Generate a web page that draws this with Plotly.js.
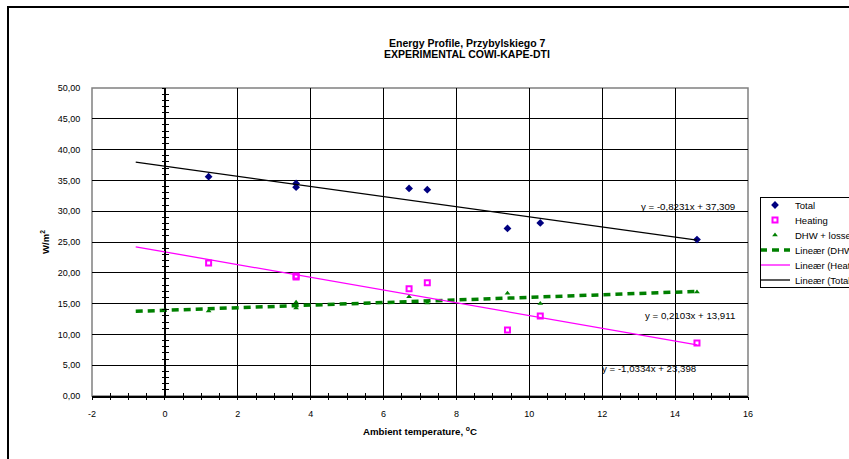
<!DOCTYPE html>
<html>
<head>
<meta charset="utf-8">
<script src="https://cdn.plot.ly/plotly-3.0.1.min.js"></script>
<style>html,body{margin:0;padding:0;background:#fff;}#chart{width:849px;height:459px;}</style>
</head>
<body>
<div id="chart"></div>
<script>
// Data
const temperature = [1.2, 3.6, 3.6, 6.7, 7.2, 9.4, 10.3, 14.6];
const totalVals   = [35.6, 34.5, 33.9, 33.7, 33.5, 27.2, 28.1, 25.4];
const heatingVals = [21.6, 19.3, 19.5, 17.4, 18.4, 10.7, 13.0, 8.6];
const dhwVals     = [13.8, 15.2, 14.3, 16.1, 15.1, 16.7, 15.0, 16.9];

// Trendline equations printed on the chart
const trendSlopes  = [-0.8231, -1.0334, 0.2103];
const trendInts    = [37.309, 23.398, 13.911];
const trendLabels  = ['y = -0,8231x + 37,309', 'y = -1,0334x + 23,398', 'y = 0,2103x + 13,911'];
const backForecast = 2;

// Tick labels
const xTickVals = [-2, 0, 2, 4, 6, 8, 10, 12, 14, 16];
const xTickText = ['-2', '0', '2', '4', '6', '8', '10', '12', '14', '16'];
const titleLines = ['Energy Profile, Przybylskiego 7', 'EXPERIMENTAL COWI-KAPE-DTI'];

const FONT = 'Liberation Sans, Arial, sans-serif';
const xMin = Math.min(...temperature) - backForecast;
const xMax = Math.max(...temperature);
function trend(i) {
  return {x: [xMin, xMax], y: [xMin, xMax].map(v => trendSlopes[i] * v + trendInts[i])};
}
const tTot = trend(0), tHeat = trend(1), tDhw = trend(2);

const traces = [
  {x: temperature, y: totalVals, name: 'Total', type: 'scatter', mode: 'markers',
   marker: {symbol: 'diamond', size: 6, color: '#000080'}},
  {x: temperature, y: heatingVals, name: 'Heating', type: 'scatter', mode: 'markers',
   marker: {symbol: 'square-open', size: 5, color: '#FF00FF', line: {width: 2, color: '#FF00FF'}}},
  {x: temperature, y: dhwVals, name: 'DHW + losses', type: 'scatter', mode: 'markers',
   marker: {symbol: 'triangle-up', size: 5, color: '#008000'}},
  {x: tDhw.x, y: tDhw.y, name: 'Lineær (DHW + losses)', type: 'scatter', mode: 'lines',
   line: {color: '#008000', width: 3.5, dash: '7px,5px'}},
  {x: tHeat.x, y: tHeat.y, name: 'Lineær (Heating)', type: 'scatter', mode: 'lines',
   line: {color: '#FF00FF', width: 1.3}},
  {x: tTot.x, y: tTot.y, name: 'Lineær (Total)', type: 'scatter', mode: 'lines',
   line: {color: '#000000', width: 1.3}}
];

const L = 92, R = 748, T = 88, B = 396, W = 849, H = 459;
const pw = R - L, ph = B - T;
function px2paperX(p) { return (p - L) / pw; }
function px2paperY(p) { return (B - p) / ph; }

const tickAxisCommon = {range: [-2, 16], showgrid: false, zeroline: false, showticklabels: false,
  showline: false, dtick: 0.5, tick0: 0, ticklen: 3, tickcolor: '#000', tickwidth: 1, fixedrange: true};
const yTickCommon = {range: [0, 50], showgrid: false, zeroline: false, showticklabels: false,
  dtick: 1, tick0: 0, ticklen: 3, tickcolor: '#000', tickwidth: 1, anchor: 'free',
  position: (0 - (-2)) / 18, overlaying: 'y', showline: true, linecolor: '#000', linewidth: 1.5};

const layout = {
  width: W, height: H,
  margin: {l: L, r: W - R, t: T, b: H - B, autoexpand: false},
  paper_bgcolor: '#fff', plot_bgcolor: '#fff',
  separators: ', ',
  font: {family: FONT, size: 9, color: '#000'},
  showlegend: true,
  legend: {x: px2paperX(760), xanchor: 'left', y: px2paperY(197), yanchor: 'top',
           bordercolor: '#000', borderwidth: 1, bgcolor: '#fff',
           font: {family: FONT, size: 9.5, color: '#000'}, tracegroupgap: 0, itemwidth: 30},
  xaxis: {range: [-2, 16], tickmode: 'array', tickvals: xTickVals, ticktext: xTickText,
          showgrid: true, gridcolor: '#000', gridwidth: 1,
          zeroline: false, showline: true, linecolor: '#000', linewidth: 1.5,
          ticks: 'outside', ticklen: 9, tickcolor: 'rgba(0,0,0,0)', tickfont: {size: 9},
          title: {text: '<b>Ambient temperature, <sup>o</sup>C</b>', font: {size: 9.7}, standoff: 10},
          fixedrange: true},
  xaxis2: Object.assign({}, tickAxisCommon, {overlaying: 'x', anchor: 'y', side: 'bottom', ticks: 'outside'}),
  xaxis3: Object.assign({}, tickAxisCommon, {overlaying: 'x', anchor: 'y', side: 'bottom', ticks: 'inside'}),
  yaxis: {range: [0, 50], dtick: 5, tick0: 0, tickformat: '.2f', showgrid: true, gridcolor: '#000', gridwidth: 1,
          zeroline: false, showline: false, ticks: 'outside', ticklen: 9, tickcolor: 'rgba(0,0,0,0)',
          tickfont: {size: 9},
          title: {text: '<b>W/m<sup>2</sup></b>', font: {size: 9.5}, standoff: 6}, fixedrange: true},
  yaxis2: Object.assign({}, yTickCommon, {ticks: 'inside'}),
  yaxis3: Object.assign({}, yTickCommon, {ticks: 'outside'}),
  shapes: [
    {type: 'rect', xref: 'paper', yref: 'paper', x0: 0, x1: 1, y0: 0, y1: 1,
     line: {color: '#808080', width: 1.5}, layer: 'below'},
    {type: 'rect', xref: 'paper', yref: 'paper',
     x0: px2paperX(8), x1: px2paperX(900), y0: px2paperY(500), y1: px2paperY(7),
     line: {color: '#000', width: 2}, fillcolor: 'rgba(0,0,0,0)', layer: 'above'}
  ],
  annotations: [
    {x: px2paperX(467), y: px2paperY(43), xref: 'paper', yref: 'paper', text: '<b>' + titleLines[0] + '</b>',
     showarrow: false, xanchor: 'center', yanchor: 'middle', font: {size: 10.5}},
    {x: px2paperX(467), y: px2paperY(54), xref: 'paper', yref: 'paper', text: '<b>' + titleLines[1] + '</b>',
     showarrow: false, xanchor: 'center', yanchor: 'middle', font: {size: 10.5}},
    {x: 15.7, y: 30.7, xref: 'x', yref: 'y', text: trendLabels[0], showarrow: false,
     xanchor: 'right', yanchor: 'middle', font: {size: 9.7}},
    {x: 14.64, y: 4.4, xref: 'x', yref: 'y', text: trendLabels[1], showarrow: false,
     xanchor: 'right', yanchor: 'middle', font: {size: 9.7}},
    {x: 15.7, y: 13.0, xref: 'x', yref: 'y', text: trendLabels[2], showarrow: false,
     xanchor: 'right', yanchor: 'middle', font: {size: 9.7}}
  ]
};

// empty helper traces that activate the tick-only axes
const axisHelpers = [
  {x: [], y: [], xaxis: 'x2', yaxis: 'y', showlegend: false, hoverinfo: 'skip', type: 'scatter'},
  {x: [], y: [], xaxis: 'x3', yaxis: 'y', showlegend: false, hoverinfo: 'skip', type: 'scatter'},
  {x: [], y: [], xaxis: 'x', yaxis: 'y2', showlegend: false, hoverinfo: 'skip', type: 'scatter'},
  {x: [], y: [], xaxis: 'x', yaxis: 'y3', showlegend: false, hoverinfo: 'skip', type: 'scatter'}
];

const ROW = 15, FIRST = 8;
const gd = document.getElementById('chart');
Plotly.newPlot(gd, axisHelpers.concat(traces), layout, {displayModeBar: false, staticPlot: true}).then(() => {
  // tighten legend rows to the reference spacing
  const leg = gd.querySelector('g.legend');
  if (!leg) return;
  leg.querySelectorAll('g.groups').forEach(g => g.setAttribute('transform', 'translate(0,0)'));
  const items = leg.querySelectorAll('g.traces');
  items.forEach((el, i) => el.setAttribute('transform', 'translate(-5,' + (FIRST + ROW * i) + ')'));
  const bg = leg.querySelector('rect.bg');
  if (bg) bg.setAttribute('height', ROW * items.length);
});
</script>
</body>
</html>
